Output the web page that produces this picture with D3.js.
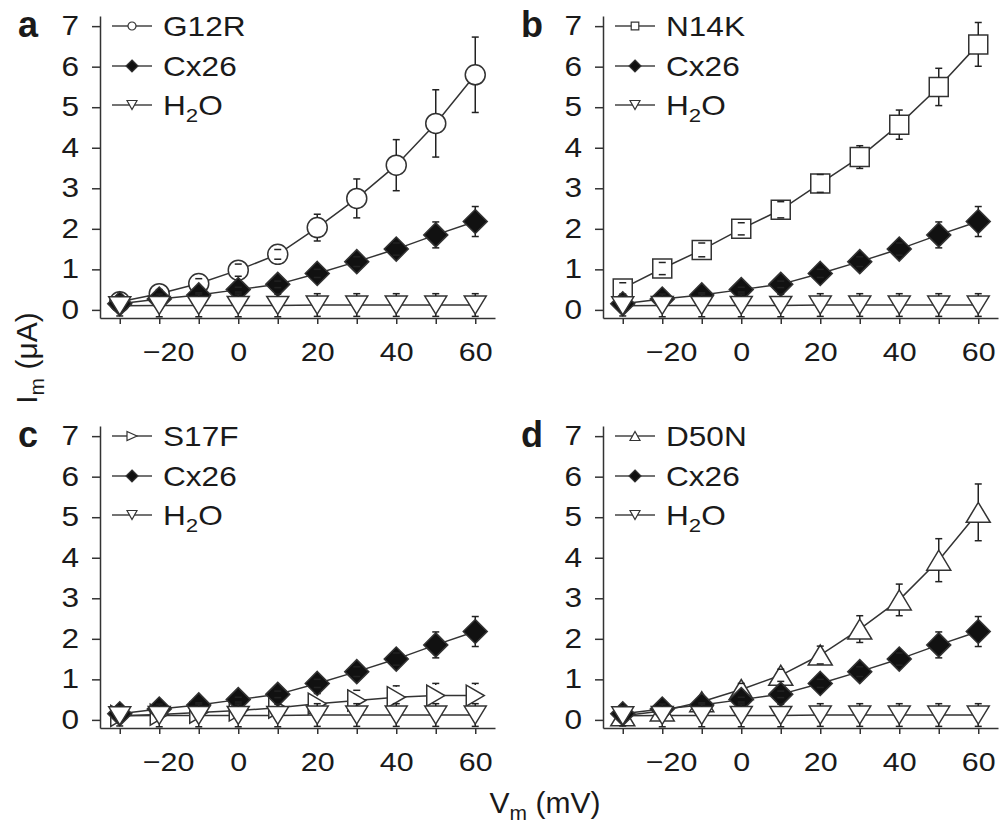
<!DOCTYPE html>
<html>
<meta charset="utf-8">
<style>
body { margin: 0; background: #fff; }
svg text { font-family: "Liberation Sans", Arial, Helvetica, sans-serif; fill: #1a1a1a; }
.axis path, .axis line { stroke: #333; stroke-width: 1.5px; }
</style>
<body>
<svg id="chart" width="1002" height="830"></svg>
<script src="https://cdn.jsdelivr.net/npm/d3@7"></script>
<script>
// membrane voltage steps (mV)
var vm = [-30, -20, -10, 0, 10, 20, 30, 40, 50, 60];
var xTicks = [-30, -20, -10, 0, 10, 20, 30, 40, 50, 60];
var xLabels = [-20, 0, 20, 40, 60];
var yTicks = [0, 1, 2, 3, 4, 5, 6, 7];

// controls, same in every panel
var cx26    = [0.15, 0.27, 0.37, 0.5, 0.63, 0.9, 1.19, 1.5, 1.85, 2.18];
var cx26Err = [0.05, 0.05, 0.05, 0.06, 0.08, 0.1, 0.12, 0.15, 0.32, 0.37];
var h2o     = [0.1, 0.11, 0.11, 0.11, 0.11, 0.12, 0.12, 0.12, 0.12, 0.12];
var h2oErr  = [0.25, 0.28, 0.28, 0.28, 0.28, 0.28, 0.28, 0.28, 0.28, 0.28];

// mutants
var g12r    = [0.2, 0.4, 0.65, 0.98, 1.37, 2.03, 2.75, 3.57, 4.6, 5.8];
var g12rErr = [0.08, 0.1, 0.12, 0.15, 0.12, 0.33, 0.48, 0.63, 0.83, 0.93];
var n14k    = [0.53, 1.02, 1.48, 2.0, 2.47, 3.12, 3.77, 4.57, 5.5, 6.55];
var n14kErr = [0.14, 0.15, 0.17, 0.15, 0.2, 0.22, 0.28, 0.36, 0.46, 0.54];
var s17f    = [0.1, 0.13, 0.18, 0.23, 0.3, 0.4, 0.48, 0.56, 0.6, 0.6];
var s17fErr = [0.05, 0.05, 0.08, 0.1, 0.15, 0.25, 0.25, 0.28, 0.3, 0.3];
var d50n    = [0.1, 0.22, 0.45, 0.75, 1.1, 1.6, 2.24, 2.96, 3.94, 5.12];
var d50nErr = [0.05, 0.05, 0.1, 0.15, 0.15, 0.22, 0.33, 0.39, 0.53, 0.7];

var panels = [
  {letter: "a", name: "G12R", vals: g12r, err: g12rErr, shape: "circle",   left: 100, top: 0},
  {letter: "b", name: "N14K", vals: n14k, err: n14kErr, shape: "square",   left: 603, top: 0},
  {letter: "c", name: "S17F", vals: s17f, err: s17fErr, shape: "triRight", left: 100, top: 410},
  {letter: "d", name: "D50N", vals: d50n, err: d50nErr, shape: "triUp",    left: 603, top: 410}
];

var SX = 1.17; // text looks a bit wider than plain Arial

// marker outlines centred on 0,0 ; big = plot, small = legend
function markerPath(shape, big) {
  var k = big ? 1 : 0.4;
  if (shape == "circle") {
    return d3.symbol().type(d3.symbolCircle).size(Math.PI * Math.pow(10 * k, 2))();
  }
  if (shape == "square") {
    var h = 9.5 * k;
    return "M" + -h + "," + -h + "H" + h + "V" + h + "H" + -h + "Z";
  }
  if (shape == "diamond") {
    var h = big ? 12 : 6;
    return "M0," + -h + "L" + h + ",0L0," + h + "L" + -h + ",0Z";
  }
  if (shape == "triDown") {
    var w = big ? 11 : 5, t = big ? 9 : 4.5;
    return "M" + -w + "," + -t + "L" + w + "," + -t + "L0," + t + "Z";
  }
  if (shape == "triUp") {
    var w = big ? 12 : 5, t = big ? 10 : 4.5;
    return "M" + -w + "," + t + "L" + w + "," + t + "L0," + -t + "Z";
  }
  if (shape == "triRight") {
    var w = big ? 9 : 5, t = big ? 10.5 : 4.5;
    return "M" + -w + "," + -t + "L" + w + ",0L" + -w + "," + t + "Z";
  }
}
var halfH = {circle: 10, square: 9.5, diamond: 12, triDown: 9, triUp: 10, triRight: 10.5};

var svg = d3.select("#chart");

panels.forEach(function(p) {
  var g = svg.append("g");
  var x = d3.scaleLinear().domain([-35, 65]).range([p.left, p.left + 395]);
  var y = d3.scaleLinear().domain([-0.2, 7.25]).range([p.top + 318, p.top + 16]);

  // axes
  var xa = g.append("g").attr("class", "axis")
    .attr("transform", "translate(0," + y(-0.2) + ")")
    .call(d3.axisBottom(x).tickValues(xTicks).tickSize(6).tickPadding(19).tickSizeOuter(0)
      .tickFormat(function(d) { return xLabels.indexOf(d) >= 0 ? d3.format("d")(d) : ""; }));
  xa.attr("font-size", 26);
  xa.selectAll("text")
    .attr("transform", "scale(" + SX + ",1)")
    .attr("x", function(d) { return d < 0 ? 7.5 : 0; });

  var ya = g.append("g").attr("class", "axis")
    .attr("transform", "translate(" + x(-35) + ",0)")
    .call(d3.axisLeft(y).tickValues(yTicks).tickSize(8).tickPadding(13).tickSizeOuter(0));
  ya.attr("font-size", 27);
  ya.selectAll("text")
    .attr("transform", "scale(" + SX + ",1)")
    .attr("x", -21 / SX);

  // panel letter
  g.append("text")
    .attr("x", p.left - 82).attr("y", p.top + 37)
    .attr("font-size", 36).attr("font-weight", "bold")
    .text(p.letter);

  var series = [
    {vals: p.vals, err: p.err, shape: p.shape, fill: "#fff", label: p.name},
    {vals: cx26, err: cx26Err, shape: "diamond", fill: "#111", label: "Cx26"},
    {vals: h2o, err: h2oErr, shape: "triDown", fill: "#fff", label: "H2O"}
  ];

  var line = d3.line()
    .x(function(d, i) { return x(vm[i]); })
    .y(function(d) { return y(d); });

  series.forEach(function(s) {
    g.append("path")
      .attr("d", line(s.vals))
      .attr("fill", "none")
      .attr("stroke", "#333")
      .attr("stroke-width", 1.5);
  });

  series.forEach(function(s) {
    var pts = g.append("g");
    s.vals.forEach(function(v, i) {
      var px = x(vm[i]), py = y(v);
      var e = y(v) - y(v + s.err[i]);
      var hh = halfH[s.shape];
      pts.append("path")
        .attr("d", markerPath(s.shape, true))
        .attr("transform", "translate(" + px + "," + py + ")")
        .attr("fill", s.fill)
        .attr("stroke", "#333")
        .attr("stroke-width", 1.5);
      var eb = pts.append("g").attr("stroke", "#222").attr("stroke-width", 1.5);
      if (e > hh) {
        eb.append("line").attr("x1", px).attr("x2", px).attr("y1", py - hh).attr("y2", py - e);
        eb.append("line").attr("x1", px).attr("x2", px).attr("y1", py + hh).attr("y2", py + e);
      }
      eb.append("line").attr("x1", px - 3.5).attr("x2", px + 3.5).attr("y1", py - e).attr("y2", py - e);
      eb.append("line").attr("x1", px - 3.5).attr("x2", px + 3.5).attr("y1", py + e).attr("y2", py + e);
    });
  });

  // legend
  var rows = [26, 66, 105];
  series.forEach(function(s, i) {
    var ly = p.top + rows[i];
    g.append("line")
      .attr("x1", p.left + 12).attr("x2", p.left + 52)
      .attr("y1", ly).attr("y2", ly)
      .attr("stroke", "#444").attr("stroke-width", 1.5);
    g.append("path")
      .attr("d", markerPath(s.shape, false))
      .attr("transform", "translate(" + (p.left + 32) + "," + ly + ")")
      .attr("fill", s.fill).attr("stroke", "#333").attr("stroke-width", 1.2);
    var t = g.append("text")
      .attr("transform", "translate(" + (p.left + 63) + "," + (ly + 9.5) + ") scale(" + SX + ",1)")
      .attr("font-size", 27);
    if (s.label == "H2O") {
      t.append("tspan").text("H");
      t.append("tspan").attr("font-size", 19).attr("dy", 7).text("2");
      t.append("tspan").attr("dy", -7).text("O");
    } else {
      t.text(s.label);
    }
  });
});

// shared axis titles
var xt = svg.append("text")
  .attr("x", 545).attr("y", 813)
  .attr("text-anchor", "middle").attr("font-size", 30);
xt.append("tspan").text("V");
xt.append("tspan").attr("font-size", 21).attr("dy", 7).text("m");
xt.append("tspan").attr("dy", -7).text(" (mV)");

var yt = svg.append("text")
  .attr("transform", "translate(37,358) rotate(-90)")
  .attr("text-anchor", "middle").attr("font-size", 30);
yt.append("tspan").text("I");
yt.append("tspan").attr("font-size", 21).attr("dy", 7).text("m");
yt.append("tspan").attr("dy", -7).text(" (\u03bcA)");
</script>
</body>
</html>
